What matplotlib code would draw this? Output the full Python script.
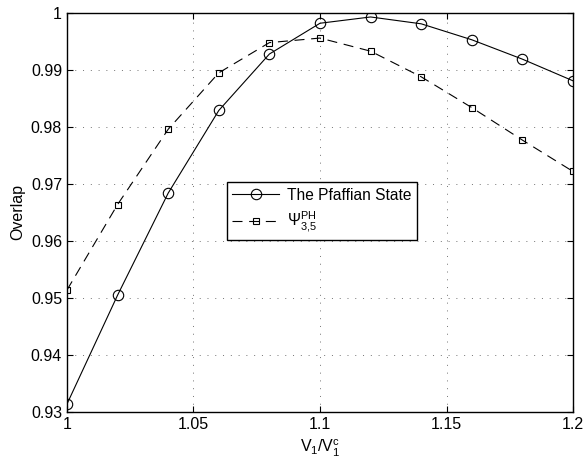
import matplotlib
matplotlib.use("Agg")
import matplotlib.pyplot as plt

plt.rcParams['font.family'] = ['Liberation Sans', 'DejaVu Sans']
plt.rcParams['mathtext.fontset'] = 'custom'
plt.rcParams['mathtext.rm'] = 'Liberation Sans'
plt.rcParams['mathtext.it'] = 'Liberation Sans'

# data
v_ratio = [1.00, 1.02, 1.04, 1.06, 1.08, 1.10, 1.12, 1.14, 1.16, 1.18, 1.20]
pfaffian = [0.9314, 0.9505, 0.9684, 0.9829, 0.9928, 0.9982, 0.9993, 0.9981, 0.9953, 0.9919, 0.9881]
psi_ph = [0.9514, 0.9664, 0.9796, 0.9895, 0.9948, 0.9956, 0.9933, 0.9888, 0.9834, 0.9777, 0.9722]

xticks = [1, 1.05, 1.1, 1.15, 1.2]
xtick_labels = ['1', '1.05', '1.1', '1.15', '1.2']
yticks = [0.93, 0.94, 0.95, 0.96, 0.97, 0.98, 0.99, 1.0]
ytick_labels = ['0.93', '0.94', '0.95', '0.96', '0.97', '0.98', '0.99', '1']

fig = plt.figure(figsize=(5.85, 4.62), dpi=100)
ax = fig.add_axes([0.1145, 0.1082, 0.865, 0.8637])

ax.plot(v_ratio, pfaffian, '-', color='black', lw=0.8, marker='o',
        markersize=7.5, markerfacecolor='none', markeredgewidth=0.8,
        label='The Pfaffian State')
ax.plot(v_ratio, psi_ph, '--', color='black', lw=0.8, marker='s',
        markersize=5, markerfacecolor='none', markeredgewidth=0.8,
        dashes=(9, 6), label=r'$\Psi^{PH}_{3{,}5}$')

ax.set_xlim(1, 1.2)
ax.set_ylim(0.93, 1.0)
ax.set_xticks(xticks)
ax.set_xticklabels(xtick_labels)
ax.set_yticks(yticks)
ax.set_yticklabels(ytick_labels)
ax.tick_params(direction='in', top=True, right=True, labelsize=11.5, length=4, width=0.8)
ax.grid(True, linestyle=(0, (1, 7)), color='0.45', lw=0.7)
for s in ax.spines.values():
    s.set_linewidth(1.0)

ax.set_xlabel(r'V$_1$/V$_1^c$', fontsize=11.5)
ax.set_ylabel('Overlap', fontsize=11.5)

leg = ax.legend(loc='upper left', bbox_to_anchor=(0.316, 0.576), borderaxespad=0,
                fontsize=11.2, fancybox=False, framealpha=1, edgecolor='black',
                handlelength=3.0, borderpad=0.35, labelspacing=0.45, handletextpad=0.5)
leg.get_frame().set_linewidth(1.0)

fig.savefig('out.png', dpi=100)
